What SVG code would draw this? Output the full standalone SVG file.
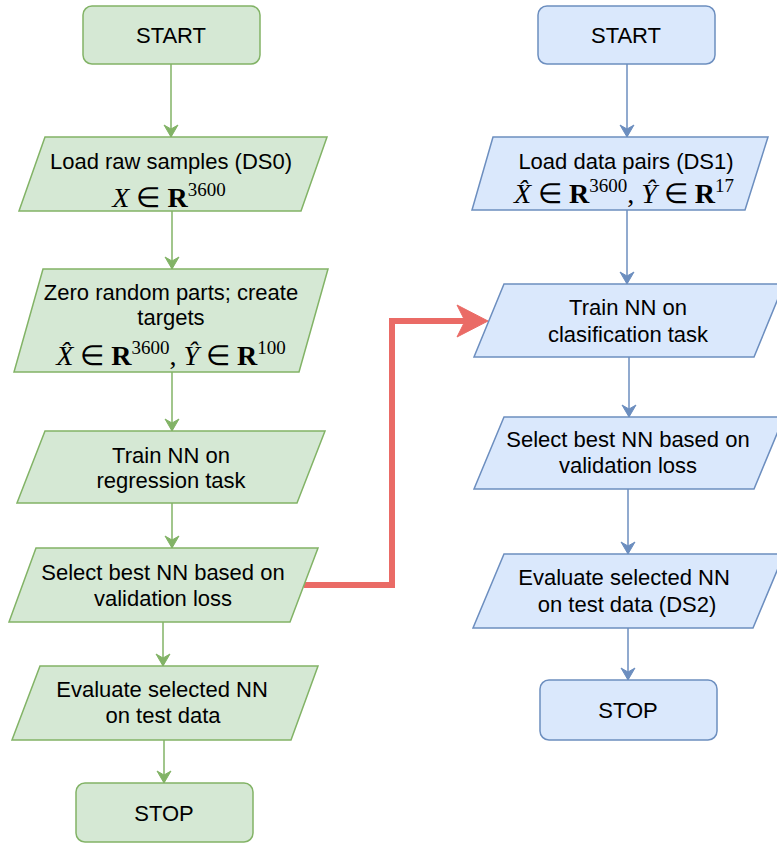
<svg xmlns="http://www.w3.org/2000/svg" width="777" height="843" viewBox="0 0 777 843">
<style>
.g{fill:#d5e8d4;stroke:#82b366;stroke-width:1.5}
.b{fill:#dae8fc;stroke:#6c8ebf;stroke-width:1.5}
.t{font-family:"Liberation Sans",Arial,sans-serif;font-size:22px;fill:#000;text-anchor:middle}
.m{font-family:"Liberation Serif","Times New Roman",serif;font-size:28px;fill:#000;text-anchor:middle}
.it{font-style:italic}
.bd{font-weight:bold}
.sp{font-size:19px}
.cg{fill:none;stroke:#82b366;stroke-width:1.5}
.cb{fill:none;stroke:#6c8ebf;stroke-width:1.5}
</style>
<defs>
<marker id="ag" markerUnits="userSpaceOnUse" markerWidth="14" markerHeight="16" refX="13" refY="8" orient="auto"><path d="M1,1 L13,8 L1,15 L5,8 Z" fill="#82b366" stroke="#82b366" stroke-width="1"/></marker>
<marker id="ab" markerUnits="userSpaceOnUse" markerWidth="14" markerHeight="16" refX="13" refY="8" orient="auto"><path d="M1,1 L13,8 L1,15 L5,8 Z" fill="#6c8ebf" stroke="#6c8ebf" stroke-width="1"/></marker>
</defs>

<g id="connectors">
<line class="cg" x1="171" y1="64" x2="171" y2="137" marker-end="url(#ag)"/>
<line class="cg" x1="172" y1="211" x2="172" y2="269" marker-end="url(#ag)"/>
<line class="cg" x1="172" y1="372" x2="172" y2="431" marker-end="url(#ag)"/>
<line class="cg" x1="172" y1="503" x2="172" y2="548" marker-end="url(#ag)"/>
<line class="cg" x1="163" y1="622" x2="163" y2="666" marker-end="url(#ag)"/>
<line class="cg" x1="164" y1="740" x2="164" y2="783" marker-end="url(#ag)"/>
<line class="cb" x1="627" y1="64" x2="627" y2="137" marker-end="url(#ab)"/>
<line class="cb" x1="627" y1="210" x2="627" y2="284" marker-end="url(#ab)"/>
<line class="cb" x1="629" y1="357" x2="629" y2="417" marker-end="url(#ab)"/>
<line class="cb" x1="628" y1="489" x2="628" y2="554" marker-end="url(#ab)"/>
<line class="cb" x1="628" y1="628" x2="628" y2="680" marker-end="url(#ab)"/>
<path d="M304,585 H392 V321 H468" fill="none" stroke="#ea6b66" stroke-width="6"/>
<path d="M488,321 L457,305 L465,321 L457,337 Z" fill="#ea6b66" stroke="#ea6b66" stroke-width="1"/>
</g>

<g id="start-left">
<rect class="g" x="83" y="6" width="177" height="58" rx="9"/>
<text class="t" x="171" y="43">START</text>
</g>
<g id="load-ds0">
<polygon class="g" points="45,137 327,137 301,211 19,211"/>
<text class="t" x="171" y="169">Load raw samples (DS0)</text>
<text class="m" x="169" y="207"><tspan class="it">X</tspan> ∈ <tspan class="bd">R</tspan><tspan class="sp" dy="-11">3600</tspan></text>
</g>
<g id="zero-parts">
<polygon class="g" points="43,269 328,269 299,372 14,372"/>
<text class="t" x="171" y="300">Zero random parts; create</text>
<text class="t" x="171" y="325">targets</text>
<text class="m" x="171" y="365"><tspan class="it">X̂</tspan> ∈ <tspan class="bd">R</tspan><tspan class="sp" dy="-11">3600</tspan><tspan dy="11">, </tspan><tspan class="it">Ŷ</tspan> ∈ <tspan class="bd">R</tspan><tspan class="sp" dy="-11">100</tspan></text>
</g>
<g id="train-regression">
<polygon class="g" points="45,431 325,431 297,503 17,503"/>
<text class="t" x="171" y="463">Train NN on</text>
<text class="t" x="171" y="488">regression task</text>
</g>
<g id="select-left">
<polygon class="g" points="36,548 318,548 290,622 9,622"/>
<text class="t" x="163" y="580">Select best NN based on</text>
<text class="t" x="163" y="606">validation loss</text>
</g>
<g id="evaluate-left">
<polygon class="g" points="40,666 318,666 291,740 12,740"/>
<text class="t" x="162" y="697">Evaluate selected NN</text>
<text class="t" x="163" y="723">on test data</text>
</g>
<g id="stop-left">
<rect class="g" x="76" y="783" width="177" height="59" rx="9"/>
<text class="t" x="164" y="821">STOP</text>
</g>

<g id="start-right">
<rect class="b" x="538" y="6" width="177" height="58" rx="9"/>
<text class="t" x="626" y="43">START</text>
</g>
<g id="load-ds1">
<polygon class="b" points="493,137 768,137 745,210 472,210"/>
<text class="t" x="626" y="169">Load data pairs (DS1)</text>
<text class="m" x="624" y="203"><tspan class="it">X̂</tspan> ∈ <tspan class="bd">R</tspan><tspan class="sp" dy="-11">3600</tspan><tspan dy="11">, </tspan><tspan class="it">Ŷ</tspan> ∈ <tspan class="bd">R</tspan><tspan class="sp" dy="-11">17</tspan></text>
</g>
<g id="train-classification">
<polygon class="b" points="504,284 784,284 754,357 474,357"/>
<text class="t" x="628" y="315">Train NN on</text>
<text class="t" x="628" y="342">clasification task</text>
</g>
<g id="select-right">
<polygon class="b" points="504,417 784,417 754,489 474,489"/>
<text class="t" x="628" y="447">Select best NN based on</text>
<text class="t" x="628" y="473">validation loss</text>
</g>
<g id="evaluate-right">
<polygon class="b" points="504,554 784,554 753,628 473,628"/>
<text class="t" x="624" y="585">Evaluate selected NN</text>
<text class="t" x="627" y="612">on test data (DS2)</text>
</g>
<g id="stop-right">
<rect class="b" x="540" y="680" width="177" height="60" rx="9"/>
<text class="t" x="628" y="718">STOP</text>
</g>
</svg>
